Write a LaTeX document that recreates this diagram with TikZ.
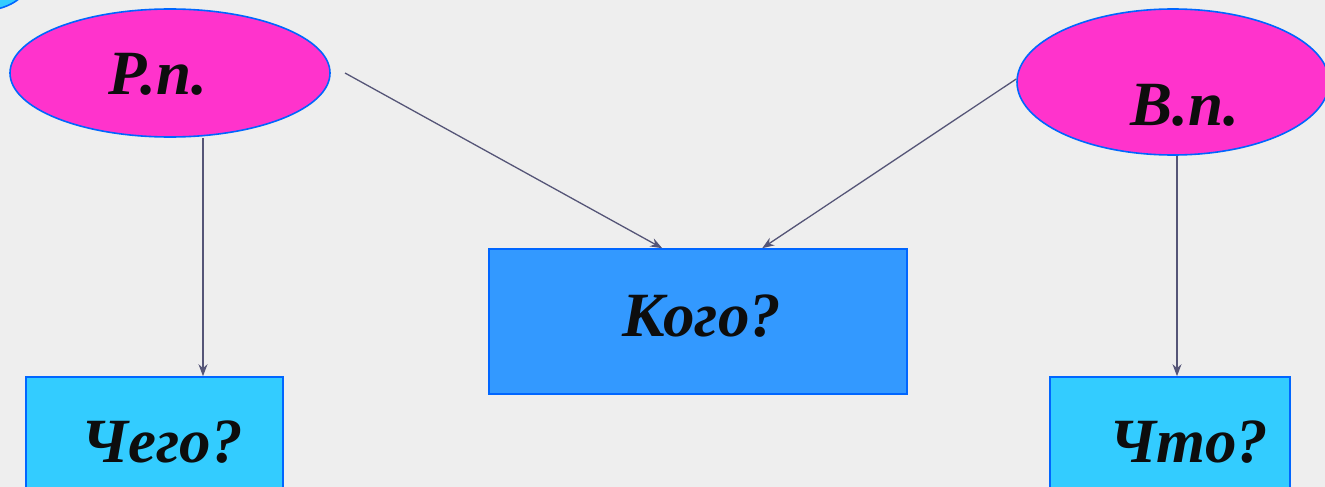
\documentclass[tikz,border=0pt]{standalone}
\usepackage{fontspec}
\setmainfont{Liberation Serif}
\usetikzlibrary{shapes.geometric,arrows.meta}
\definecolor{bg}{HTML}{EEEEEE}
\definecolor{mag}{HTML}{FF33CC}
\definecolor{bord}{HTML}{0066FF}
\definecolor{midblue}{HTML}{3399FF}
\definecolor{cyanb}{HTML}{33CCFF}
\definecolor{arrc}{HTML}{555577}
\tikzset{
  caseell/.style={ellipse, draw=bord, fill=mag, line width=1.6pt, inner sep=0pt},
  qbox/.style={rectangle, draw=bord, line width=1.6pt, inner sep=0pt},
  lbl/.style={anchor=base, inner sep=0pt, font=\fontsize{63}{70}\selectfont\bfseries\itshape, text=black!95},
  arr/.style={draw=arrc, line width=1.3pt, -{Stealth[length=12pt,width=9pt]}}
}
\begin{document}
\begin{tikzpicture}[x=1pt,y=-1pt]
\useasboundingbox (0,0) rectangle (1325,487);
\fill[bg] (0,0) rectangle (1325,487);
% corner fragment
\node[ellipse, draw=bord, fill=cyanb, line width=1.6pt, minimum width=98pt, minimum height=62pt, inner sep=0pt] (corner) at (-20,-20) {};
% ellipses
\node[caseell, minimum width=320pt, minimum height=128pt] (rp) at (170,73) {};
\node[caseell, minimum width=312pt, minimum height=146pt] (vn) at (1173,82) {};
% boxes
\node[qbox, fill=midblue, minimum width=418pt, minimum height=145pt] (kogo) at (698,321.5) {};
\node[qbox, fill=cyanb, minimum width=257pt, minimum height=160pt] (cego) at (154.5,457) {};
\node[qbox, fill=cyanb, minimum width=240pt, minimum height=160pt] (chto) at (1170,457) {};
% labels
\node[lbl] (trp) at (158,95) {Р.п.};
\node[lbl] (tvn) at (1185,125) {В.п.};
\node[lbl] (tkogo) at (702,336) {Кого?};
\node[lbl] (tcego) at (162,462) {Чего?};
\node[lbl] (tchto) at (1189,462) {Что?};
% connectors
\coordinate (s1) at (345,73);
\draw[arr] ([xshift=33pt]rp.south) -- ([xshift=33pt]rp.south |- cego.north);
\draw[arr] ([xshift=4pt]vn.south) -- ([xshift=4pt]vn.south |- chto.north);
\draw[arr] (s1) -- ([xshift=174pt]kogo.north west);
\draw[arr] ([yshift=3pt]vn.west) -- ([xshift=274pt]kogo.north west);
\end{tikzpicture}
\end{document}
